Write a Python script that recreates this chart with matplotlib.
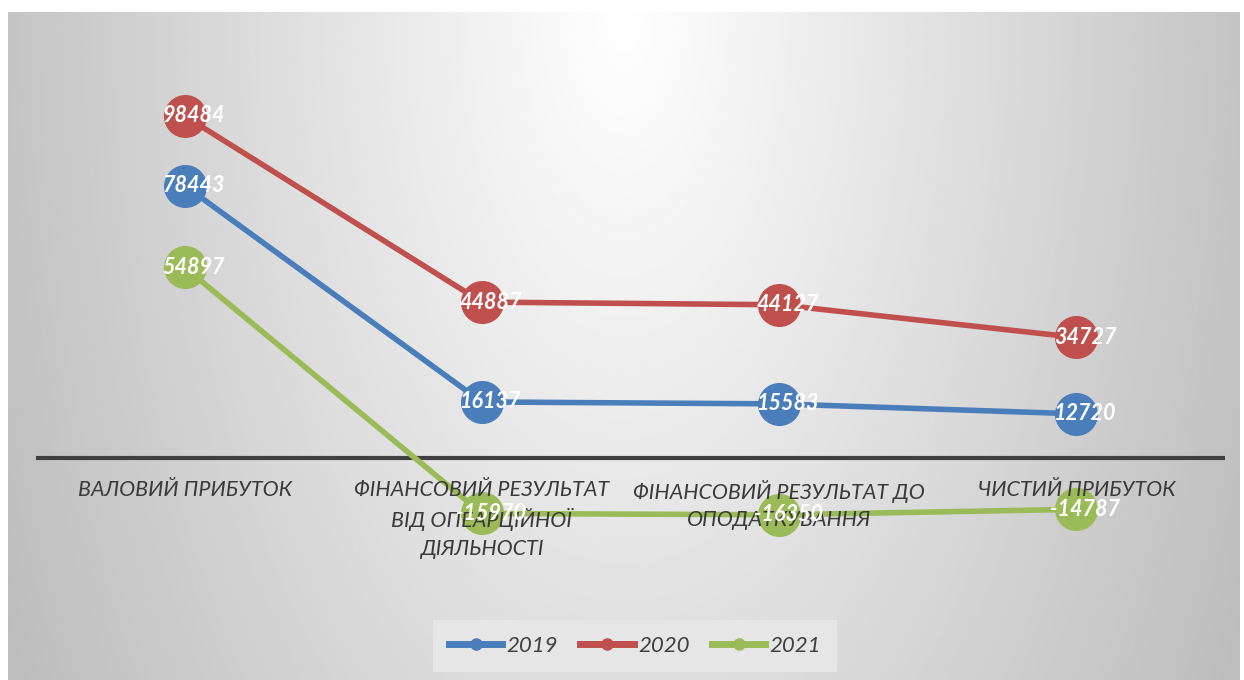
import numpy as np
import matplotlib.pyplot as plt

categories = [
    "ВАЛОВИЙ ПРИБУТОК",
    "ФІНАНСОВИЙ РЕЗУЛЬТАТ\nВІД ОПЕАРЦІЙНОЇ\nДІЯЛЬНОСТІ",
    "ФІНАНСОВИЙ РЕЗУЛЬТАТ ДО\nОПОДАТКУВАННЯ",
    "ЧИСТИЙ ПРИБУТОК",
]
years = ["2019", "2020", "2021"]
v2019 = [78443, 16137, 15583, 12720]
v2020 = [98484, 44887, 44127, 34727]
v2021 = [54897, -15970, -16350, -14787]
colors = ["#4a7ebb", "#c0504d", "#9bbb59"]

W, H = 1244, 680
fig = plt.figure(figsize=(W / 100, H / 100), dpi=100, facecolor="white")

# soft radial background of the chart area
bg = fig.add_axes([8 / W, 0, (W - 12) / W, (H - 12) / H])
gx, gy = np.meshgrid(np.linspace(0, 1, 400), np.linspace(0, 1, 240))
r = np.sqrt(((gx - 0.5) / 0.5) ** 2 + (gy / 1.8) ** 2)
shade = np.clip(1.0 - 0.23 * r, 0.74, 1.0)
bg.imshow(shade, cmap="gray", vmin=0, vmax=1, aspect="auto",
          extent=[0, 1, 1, 0], interpolation="bilinear")
bg.axis("off")

# main plot: zero line at y=458px, 0.003473 px per unit
ax_top, ax_bot = 60, 560
scale = 0.003473
ax = fig.add_axes([36 / W, (H - ax_bot) / H, 1189 / W, (ax_bot - ax_top) / H])
ax.patch.set_alpha(0)
ax.set_xlim(-0.5, 3.5)
ax.set_ylim((458 - ax_bot) / scale, (458 - ax_top) / scale)
ax.axis("off")

ax.axhline(0, color="#404040", lw=3, zorder=1)

x = np.arange(len(categories))
for i, (vals, c) in enumerate(zip([v2019, v2020, v2021], colors)):
    ax.plot(x, vals, color=c, lw=4, marker="o", markersize=30,
            label=years[i], zorder=3 + i, clip_on=False)

for xi, lab in zip(x, categories):
    ax.text(xi, -6300, lab, ha="center", va="top", fontsize=15.5,
            style="italic", color="#3a3a3a", family="Lato",
            linespacing=1.45, zorder=8)

for i, (vals, c) in enumerate(zip([v2019, v2020, v2021], colors)):
    for xi, v in zip(x, vals):
        ax.text(xi + 0.03, v, str(v), ha="center", va="center",
                fontsize=15.5, style="italic", weight="bold",
                color="white", family="Lato", zorder=10)

leg = fig.legend(loc="center", bbox_to_anchor=(635 / W, (H - 646) / H),
                 ncol=3, frameon=True, fancybox=False, facecolor="#e6e6e6",
                 edgecolor="none", framealpha=1, handlelength=2.4,
                 handletextpad=0.2, columnspacing=1.0, borderpad=0.7,
                 prop={"family": "Lato", "style": "italic", "size": 16})
for h in leg.legend_handles:
    h.set_markersize(8)
    h.set_linewidth(5)
for t in leg.get_texts():
    t.set_color("#404040")

fig.savefig("out.png", dpi=100)
